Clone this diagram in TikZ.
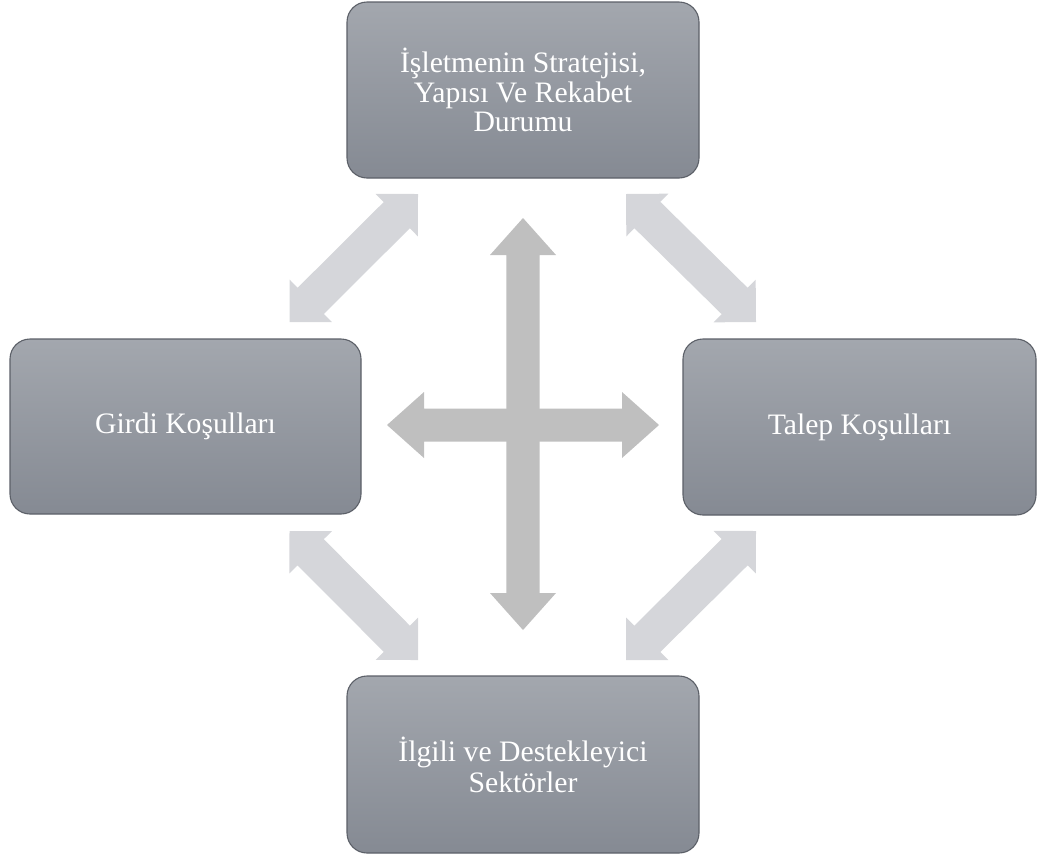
\documentclass[tikz,border=0pt]{standalone}
\usepackage{fontspec}
\setmainfont{Liberation Serif}
\usetikzlibrary{calc}

\definecolor{boxtop}{HTML}{A3A7AE}
\definecolor{boxbot}{HTML}{858A93}
\definecolor{boxline}{HTML}{5C6068}
\definecolor{crossgray}{HTML}{BFBFBF}
\definecolor{diaggray}{HTML}{D5D6DA}

\tikzset{
  factor/.style={rectangle, rounded corners=20pt, draw=boxline, line width=1.1pt,
    top color=boxtop, bottom color=boxbot, text=white, align=center,
    inner sep=0pt, font=\fontsize{29.7}{29.5}\selectfont},
  crossarrow/.style={fill=crossgray},
  linkarrow/.style={fill=diaggray},
}

% Double-headed block arrow between two tips:
% #1,#2 tips, #3 head length, #4 head half-width, #5 shaft half-width, #6 style
\newcommand\twoheaded[6]{%
  \coordinate (ha) at ($(#1)!#3!(#2)$);
  \coordinate (hb) at ($(#2)!#3!(#1)$);
  \fill[#6] (#1) -- ($(ha)!#4!90:(#2)$) -- ($(ha)!#5!90:(#2)$)
    -- ($(hb)!#5!-90:(#1)$) -- ($(hb)!#4!-90:(#1)$) -- (#2)
    -- ($(hb)!#4!90:(#1)$) -- ($(hb)!#5!90:(#1)$)
    -- ($(ha)!#5!-90:(#2)$) -- ($(ha)!#4!-90:(#2)$) -- cycle;
}

\begin{document}
\begin{tikzpicture}[x=1pt,y=-1pt]
\useasboundingbox (0,0) rectangle (1043,855);

% the four factors
\node[factor, minimum width=352pt, minimum height=176pt] (strat) at (523,90)
  {İşletmenin Stratejisi,\\Yapısı Ve Rekabet\\Durumu};
\node[factor, minimum width=351pt, minimum height=175pt] (girdi) at (185.5,426.5)
  {Girdi Koşulları};
\node[factor, minimum width=353pt, minimum height=176pt] (talep) at (859.5,427)
  {Talep Koşulları};
\node[factor, minimum width=352pt, minimum height=177pt, font=\fontsize{29.7}{31}\selectfont] (ilgili) at (523,764.5)
  {İlgili ve Destekleyici\\Sektörler};

% tips of the central cross
\coordinate (vt) at (523,218);
\coordinate (vb) at (523,630);
\coordinate (hl) at (387,425);
\coordinate (hr) at (659,425);

% tips of the diagonal links
\coordinate (tl1) at (418,194);
\coordinate (tl2) at (289.5,322);
\coordinate (tr1) at (626,194);
\coordinate (tr2) at (756,322);
\coordinate (bl1) at (289.5,531);
\coordinate (bl2) at (418,660);
\coordinate (br1) at (756,531);
\coordinate (br2) at (626,660);

% central cross
\twoheaded{vt}{vb}{37pt}{33pt}{16.7pt}{crossarrow}
\twoheaded{hl}{hr}{37pt}{33pt}{16.5pt}{crossarrow}

% links between neighbouring factors
\twoheaded{tl1}{tl2}{30pt}{30pt}{18.5pt}{linkarrow}
\twoheaded{tr1}{tr2}{30pt}{30pt}{18.5pt}{linkarrow}
\twoheaded{bl1}{bl2}{30pt}{30pt}{18.5pt}{linkarrow}
\twoheaded{br1}{br2}{30pt}{30pt}{18.5pt}{linkarrow}
\end{tikzpicture}
\end{document}
